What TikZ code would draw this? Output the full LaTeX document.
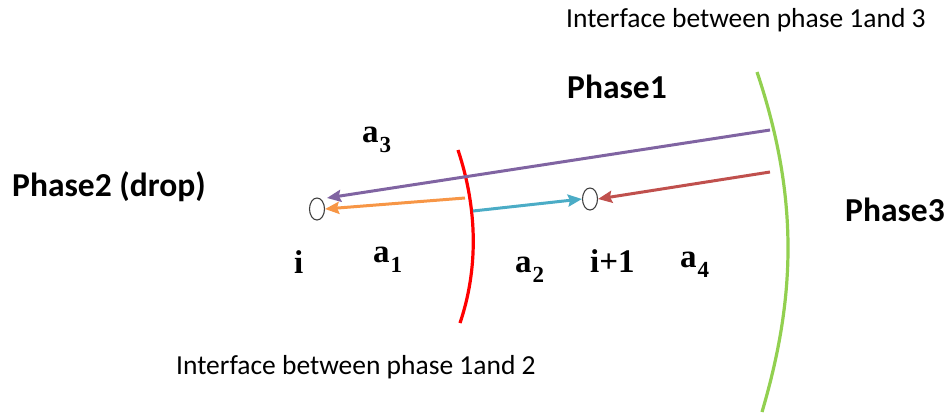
\documentclass[tikz,border=0pt]{standalone}
\usepackage{fontspec}
\setmainfont{Carlito}
\newfontfamily\labfont{Liberation Serif}
\usetikzlibrary{arrows.meta,shapes.geometric}
\definecolor{cpurple}{HTML}{8064A2}
\definecolor{corange}{HTML}{F79646}
\definecolor{cblue}{HTML}{4BACC6}
\definecolor{cred}{HTML}{C0504D}
\definecolor{cgreen}{HTML}{92D050}
\newcommand\labsub[1]{\kern1pt\raisebox{-10pt}{\fontsize{23}{25}\selectfont #1}}
\tikzset{
  vec/.style={line width=3pt,-{Stealth[length=14pt,width=12pt,inset=2pt]}},
  iface/.style={line width=3.2pt},
  dot/.style={ellipse,draw=black!75,line width=1.1pt,minimum width=15pt,minimum height=22pt,inner sep=0pt},
  itxt/.style={font=\fontsize{27.5}{32}\selectfont,anchor=west,inner sep=0pt},
  ptxt/.style={font=\fontsize{33.5}{38}\selectfont\bfseries,anchor=west,inner sep=0pt},
  mlab/.style={font=\labfont\fontsize{33}{38}\selectfont\bfseries,inner sep=0pt,anchor=base west}
}
\begin{document}
\begin{tikzpicture}[x=1pt,y=-1pt]
\useasboundingbox (0,0) rectangle (949,418);
% interfaces
\draw[iface,cgreen] (757,72) .. controls (800,200) and (795,300) .. (762,412);
\draw[iface,red] (458,150) .. controls (478,210) and (478,270) .. (460,323);
% points
\node[dot] (ni) at (317,209) {};
\node[dot] (nj) at (590,199) {};
% arrow ends
\coordinate (s3) at (770,130);
\coordinate (t3) at (327,198);
\coordinate (s1) at (465,198);
\coordinate (s2) at (473,211);
\coordinate (s4) at (770,172);
\draw[vec,cpurple] (s3) -- (t3);
\draw[vec,corange] (s1) -- (ni.east);
\draw[vec,cblue] (s2) -- (nj.west);
\draw[vec,cred] (s4) -- (nj.east);
% texts
\node[itxt] (t13) at (566,20) {Interface between phase 1and 3};
\node[itxt] (t12) at (176,367) {Interface between phase 1and 2};
\node[ptxt] (p1) at (567,87) {Phase1};
\node[ptxt] (p2) at (12,187) {Phase2 (drop)};
\node[ptxt] (p3) at (845,210) {Phase3};
\node[mlab] (la3) at (362,142) {a\labsub{3}};
\node[mlab] (li) at (294,273) {i};
\node[mlab] (la1) at (373,262) {a\labsub{1}};
\node[mlab] (la2) at (515,272) {a\labsub{2}};
\node[mlab] (lj) at (590,272) {i+1};
\node[mlab] (la4) at (680,267) {a\labsub{4}};
\end{tikzpicture}
\end{document}
